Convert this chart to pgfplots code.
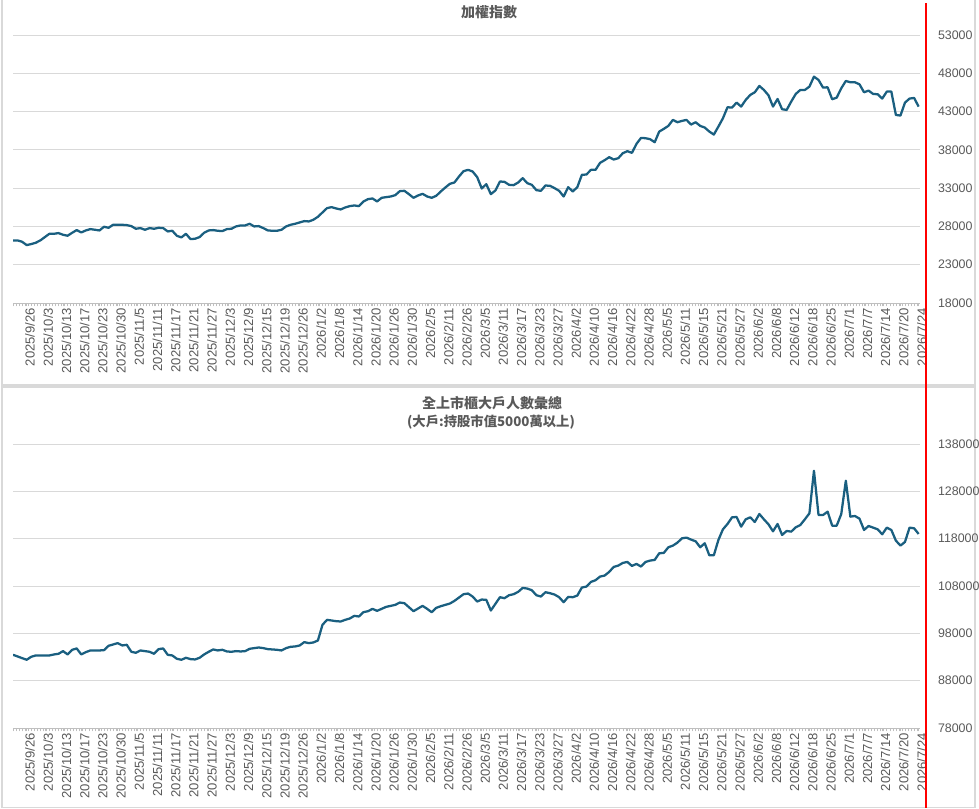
\documentclass[border=0pt]{standalone}
\usepackage{pgfplots}
\pgfplotsset{compat=1.18}
\usepackage{pgfplotstable}
\usepackage{fontspec}
\setmainfont{Liberation Sans}
\newfontfamily\cjk{Noto Sans CJK TC}
\definecolor{linec}{HTML}{1A5F80}
\definecolor{gridc}{HTML}{D9D9D9}
\definecolor{axc}{HTML}{BFBFBF}
\definecolor{txt}{HTML}{595959}

\pgfplotstableread{
x y
0 26174
1 26174
2 26000
3 25565
4 25696
5 25870
6 26174
7 26609
8 27043
9 27043
10 27130
11 26913
12 26783
13 27174
14 27522
15 27217
16 27478
17 27652
18 27565
19 27478
20 27957
21 27826
22 28217
23 28217
24 28217
25 28174
26 28043
27 27696
28 27783
29 27565
30 27783
31 27696
32 27826
33 27783
34 27348
35 27435
36 26783
37 26565
38 27043
39 26348
40 26391
41 26609
42 27174
43 27478
44 27522
45 27435
46 27391
47 27652
48 27696
49 28000
50 28130
51 28130
52 28348
53 28000
54 28043
55 27783
56 27478
57 27435
58 27435
59 27565
60 28000
61 28217
62 28348
63 28522
64 28696
65 28652
66 28870
67 29261
68 29826
69 30391
70 30522
71 30348
72 30217
73 30478
74 30652
75 30739
76 30652
77 31261
78 31565
79 31652
80 31261
81 31739
82 31826
83 31913
84 32087
85 32609
86 32652
87 32217
88 31739
89 32043
90 32261
91 31913
92 31739
93 32000
94 32565
95 33087
96 33565
97 33739
98 34522
99 35217
100 35391
101 35174
102 34435
103 32957
104 33522
105 32217
106 32696
107 33870
108 33826
109 33435
110 33391
111 33739
112 34304
113 33652
114 33435
115 32739
116 32652
117 33348
118 33304
119 33000
120 32652
121 31913
122 33130
123 32565
124 33130
125 34739
126 34783
127 35391
128 35391
129 36304
130 36652
131 37043
132 36739
133 36913
134 37565
135 37826
136 37609
137 38783
138 39565
139 39522
140 39391
141 39000
142 40391
143 40739
144 41130
145 41913
146 41609
147 41783
148 41913
149 41304
150 41609
151 41130
152 40913
153 40391
154 40000
155 41043
156 42130
157 43565
158 43522
159 44174
160 43652
161 44522
162 45174
163 45522
164 46348
165 45826
166 45130
167 43652
168 44652
169 43304
170 43217
171 44304
172 45304
173 45826
174 45826
175 46261
176 47565
177 47130
178 46130
179 46174
180 44609
181 44826
182 46043
183 47000
184 46826
185 46826
186 46565
187 45522
188 45739
189 45304
190 45261
191 44696
192 45609
193 45609
194 42565
195 42478
196 44174
197 44696
198 44783
199 43652
}\taiex

\pgfplotstableread{
x y
0 93470
1 93119
2 92767
3 92416
4 93048
5 93330
6 93330
7 93330
8 93330
9 93541
10 93681
11 94244
12 93541
13 94525
14 94806
15 93541
16 94033
17 94385
18 94385
19 94385
20 94455
21 95369
22 95650
23 95932
24 95439
25 95580
26 94103
27 93892
28 94385
29 94244
30 94103
31 93681
32 94666
33 94806
34 93470
35 93330
36 92627
37 92416
38 92838
39 92556
40 92486
41 92838
42 93541
43 94103
44 94596
45 94385
46 94525
47 94174
48 94103
49 94244
50 94174
51 94244
52 94736
53 94877
54 95017
55 94877
56 94666
57 94596
58 94525
59 94385
60 94877
61 95158
62 95228
63 95439
64 96143
65 95932
66 96072
67 96494
68 99799
69 100854
70 100713
71 100573
72 100502
73 100854
74 101135
75 101698
76 101557
77 102471
78 102682
79 103175
80 102753
81 103175
82 103596
83 103807
84 104018
85 104511
86 104370
87 103526
88 102682
89 103245
90 103807
91 103175
92 102471
93 103386
94 103737
95 104018
96 104300
97 104862
98 105565
99 106269
100 106409
101 105776
102 104722
103 105143
104 105073
105 102823
106 104229
107 105636
108 105425
109 106058
110 106269
111 106761
112 107605
113 107464
114 107112
115 106058
116 105776
117 106691
118 106480
119 106198
120 105636
121 104581
122 105706
123 105636
124 105987
125 107675
126 107886
127 108870
128 109222
129 109996
130 110207
131 110980
132 112035
133 112316
134 112879
135 113090
136 112246
137 112668
138 112105
139 113090
140 113371
141 113512
142 114918
143 114988
144 116184
145 116535
146 117168
147 118082
148 118223
149 117801
150 117450
151 116184
152 117028
153 114496
154 114496
155 117731
156 119981
157 121106
158 122513
159 122583
160 120544
161 122091
162 122513
163 121528
164 123216
165 122091
166 121036
167 119559
168 121106
169 118786
170 119629
171 119489
172 120403
173 120895
174 122091
175 123356
176 132357
177 123005
178 123005
179 123708
180 120755
181 120755
182 123216
183 130248
184 122653
185 122794
186 122231
187 119840
188 120684
189 120333
190 119981
191 118926
192 120333
193 119840
194 117590
195 116535
196 117309
197 120333
198 120192
199 118997
}\holders

\pgfplotsset{
  panel/.style={
    anchor=south west, scale only axis, width=680.25pt,
    xmin=0, xmax=199.3,
    axis x line*=bottom, axis y line*=right,
    y axis line style={draw=none},
    x axis line style={axc, line width=0.75pt},
    ymajorgrids, grid style={gridc, line width=0.75pt},
    ytick style={draw=none},
    xtick={3,7,...,199},
    minor xtick={0,0.6667,...,199.4},
    xtick style={axc, line width=0.5pt},
    major tick length=2.5pt, minor tick length=2.5pt,
    tick align=outside,
    xticklabels={2025/9/26,2025/10/3,2025/10/13,2025/10/17,2025/10/23,2025/10/30,2025/11/5,2025/11/11,2025/11/17,2025/11/21,2025/11/27,2025/12/3,2025/12/9,2025/12/15,2025/12/19,2025/12/26,2026/1/2,2026/1/8,2026/1/14,2026/1/20,2026/1/26,2026/1/30,2026/2/5,2026/2/11,2026/2/26,2026/3/5,2026/3/11,2026/3/17,2026/3/23,2026/3/27,2026/4/2,2026/4/10,2026/4/16,2026/4/22,2026/4/28,2026/5/5,2026/5/11,2026/5/15,2026/5/21,2026/5/27,2026/6/2,2026/6/8,2026/6/12,2026/6/18,2026/6/25,2026/7/1,2026/7/7,2026/7/14,2026/7/20,2026/7/24},
    xticklabel style={rotate=90, anchor=east, font=\fontsize{9.8}{11}\selectfont, text=txt, inner sep=1pt, yshift=-2.5pt},
    yticklabel style={anchor=west, font=\fontsize{9.3}{11}\selectfont, text=txt, xshift=7.5pt},
    scaled y ticks=false,
    yticklabel={\pgfmathprintnumber[fixed,precision=0,1000 sep={},assume math mode=true]{\tick}},
  }
}

\begin{document}
\begin{tikzpicture}
\path[use as bounding box] (0pt,0pt) rectangle (734.25pt,-606pt);
\draw[gridc, line width=0.9pt] (1.5pt,0.5pt) -- (1.5pt,-288.75pt) -- (731.25pt,-288.75pt) -- (731.25pt,0.5pt);
\draw[gridc, line width=0.9pt] (1.5pt,-290.25pt) rectangle (731.25pt,-605.5pt);

\begin{axis}[panel, at={(9.75pt,-227.25pt)}, height=201pt,
  ymin=18000, ymax=53000, ytick={18000,23000,...,53000}]
\addplot[linec, line width=1.7pt, line join=round] table[x=x,y=y] {\taiex};
\end{axis}

\begin{axis}[panel, at={(9.75pt,-546pt)}, height=213pt,
  ymin=78000, ymax=138000, ytick={78000,88000,...,138000}]
\addplot[linec, line width=1.7pt, line join=round] table[x=x,y=y] {\holders};
\end{axis}

\node[font=\cjk\bfseries\fontsize{10.5}{12}\selectfont, text=txt] at (366.75pt,-9pt) {加權指數};
\node[font=\cjk\bfseries\fontsize{10.5}{12}\selectfont, text=txt] at (369pt,-302.25pt) {全上市櫃大戶人數彙總};
\node[font=\cjk\bfseries\fontsize{10}{12}\selectfont, text=txt] at (368.25pt,-316.5pt) {(大戶:持股市值5000萬以上)};

\draw[red, line width=1.6pt] (694.3pt,-2.25pt) -- (694.3pt,-606pt);
\end{tikzpicture}
\end{document}
